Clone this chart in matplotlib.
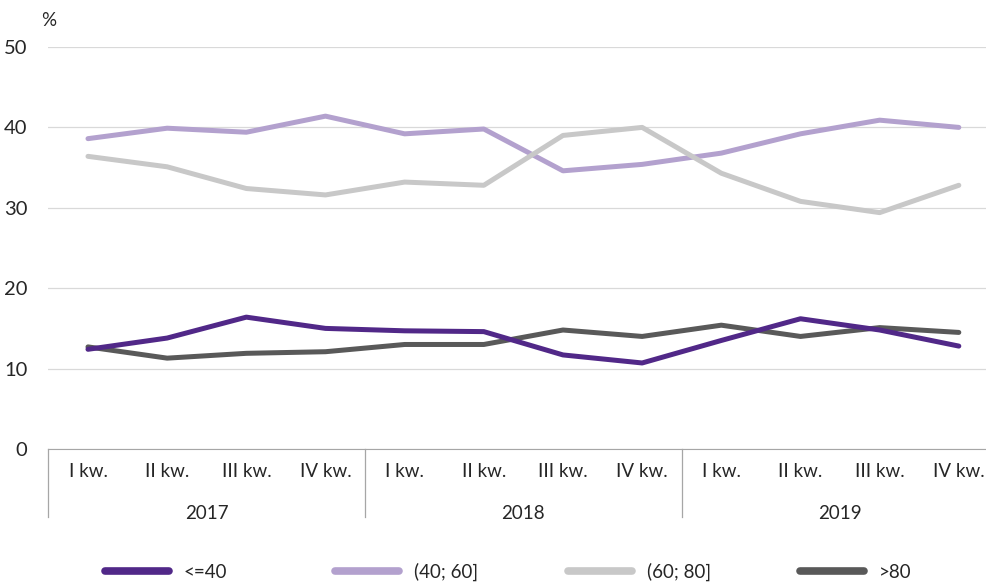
import numpy as np
import matplotlib
matplotlib.use("Agg")
import matplotlib.pyplot as plt
from matplotlib.lines import Line2D
import matplotlib.transforms as mtransforms

# dane
quarters = ["I kw.", "II kw.", "III kw.", "IV kw."] * 3
years = ["2017", "2018", "2019"]
series_names = ["<=40", "(40; 60]", "(60; 80]", ">80"]
le40 = [12.4, 13.8, 16.4, 15.0, 14.7, 14.6, 11.7, 10.7, 13.5, 16.2, 14.8, 12.8]
s40_60 = [38.6, 39.9, 39.4, 41.4, 39.2, 39.8, 34.6, 35.4, 36.8, 39.2, 40.9, 40.0]
s60_80 = [36.4, 35.1, 32.4, 31.6, 33.2, 32.8, 39.0, 40.0, 34.3, 30.8, 29.4, 32.8]
gt80 = [12.7, 11.3, 11.9, 12.1, 13.0, 13.0, 14.8, 14.0, 15.4, 14.0, 15.1, 14.5]
colors = ["#512888", "#B3A1CE", "#C8C8C8", "#595959"]

plt.rcParams['font.family'] = ['Lato', 'DejaVu Sans']
txt = "#262626"
fs = 13.5

fig = plt.figure(figsize=(9.86, 5.82), dpi=100)
# obszar wykresu wychodzi lekko poza prawą krawędź, jak w oryginale
ax = fig.add_axes([48.4/986, 1-449/582, 950/986, 402/582])

x = np.arange(12)
data = [le40, s40_60, s60_80, gt80]
# kolejność rysowania: jasne pod ciemnymi
for i in [1, 2, 3, 0]:
    ax.plot(x, data[i], color=colors[i], lw=3.6, solid_capstyle="round", zorder=3)

ax.set_xlim(-0.5, 11.5)
ax.set_ylim(0, 50)
ax.set_yticks([0, 10, 20, 30, 40, 50])
ax.grid(axis="y", color="#D9D9D9", lw=0.9)
ax.set_axisbelow(True)
for s in ["top", "right", "left"]:
    ax.spines[s].set_visible(False)
ax.spines["bottom"].set_color("#A6A6A6")
ax.tick_params(axis="y", length=0, pad=15, labelsize=14.5, labelcolor=txt)
ax.set_xticks(x)
ax.set_xticklabels(quarters)
ax.tick_params(axis="x", length=0, pad=10, labelsize=fs, labelcolor=txt)

trans = mtransforms.blended_transform_factory(ax.transData, ax.transAxes)
for xs in [-0.5, 3.5, 7.5]:
    ax.plot([xs, xs], [0, -0.17], color="#A6A6A6", lw=0.9, transform=trans, clip_on=False)
for k, yr in enumerate(years):
    ax.text(4*k + 1.5, -0.16, yr, transform=trans, ha="center", va="center",
            fontsize=fs, color=txt)

ax.text(-0.5, 1.065, "%", transform=trans, ha="center", va="center", fontsize=fs, color=txt)

# legenda
leg_x = [100, 330, 563, 795]
for i in range(4):
    h = Line2D([], [], color=colors[i], lw=5.5, solid_capstyle="round")
    fig.legend([h], [series_names[i]], loc="center left",
               bbox_to_anchor=(leg_x[i]/986 - 0.012, 1-572/582),
               frameon=False, fontsize=fs, handlelength=3.4,
               handletextpad=0.8, labelcolor=txt)

fig.savefig("out.png", dpi=100)
